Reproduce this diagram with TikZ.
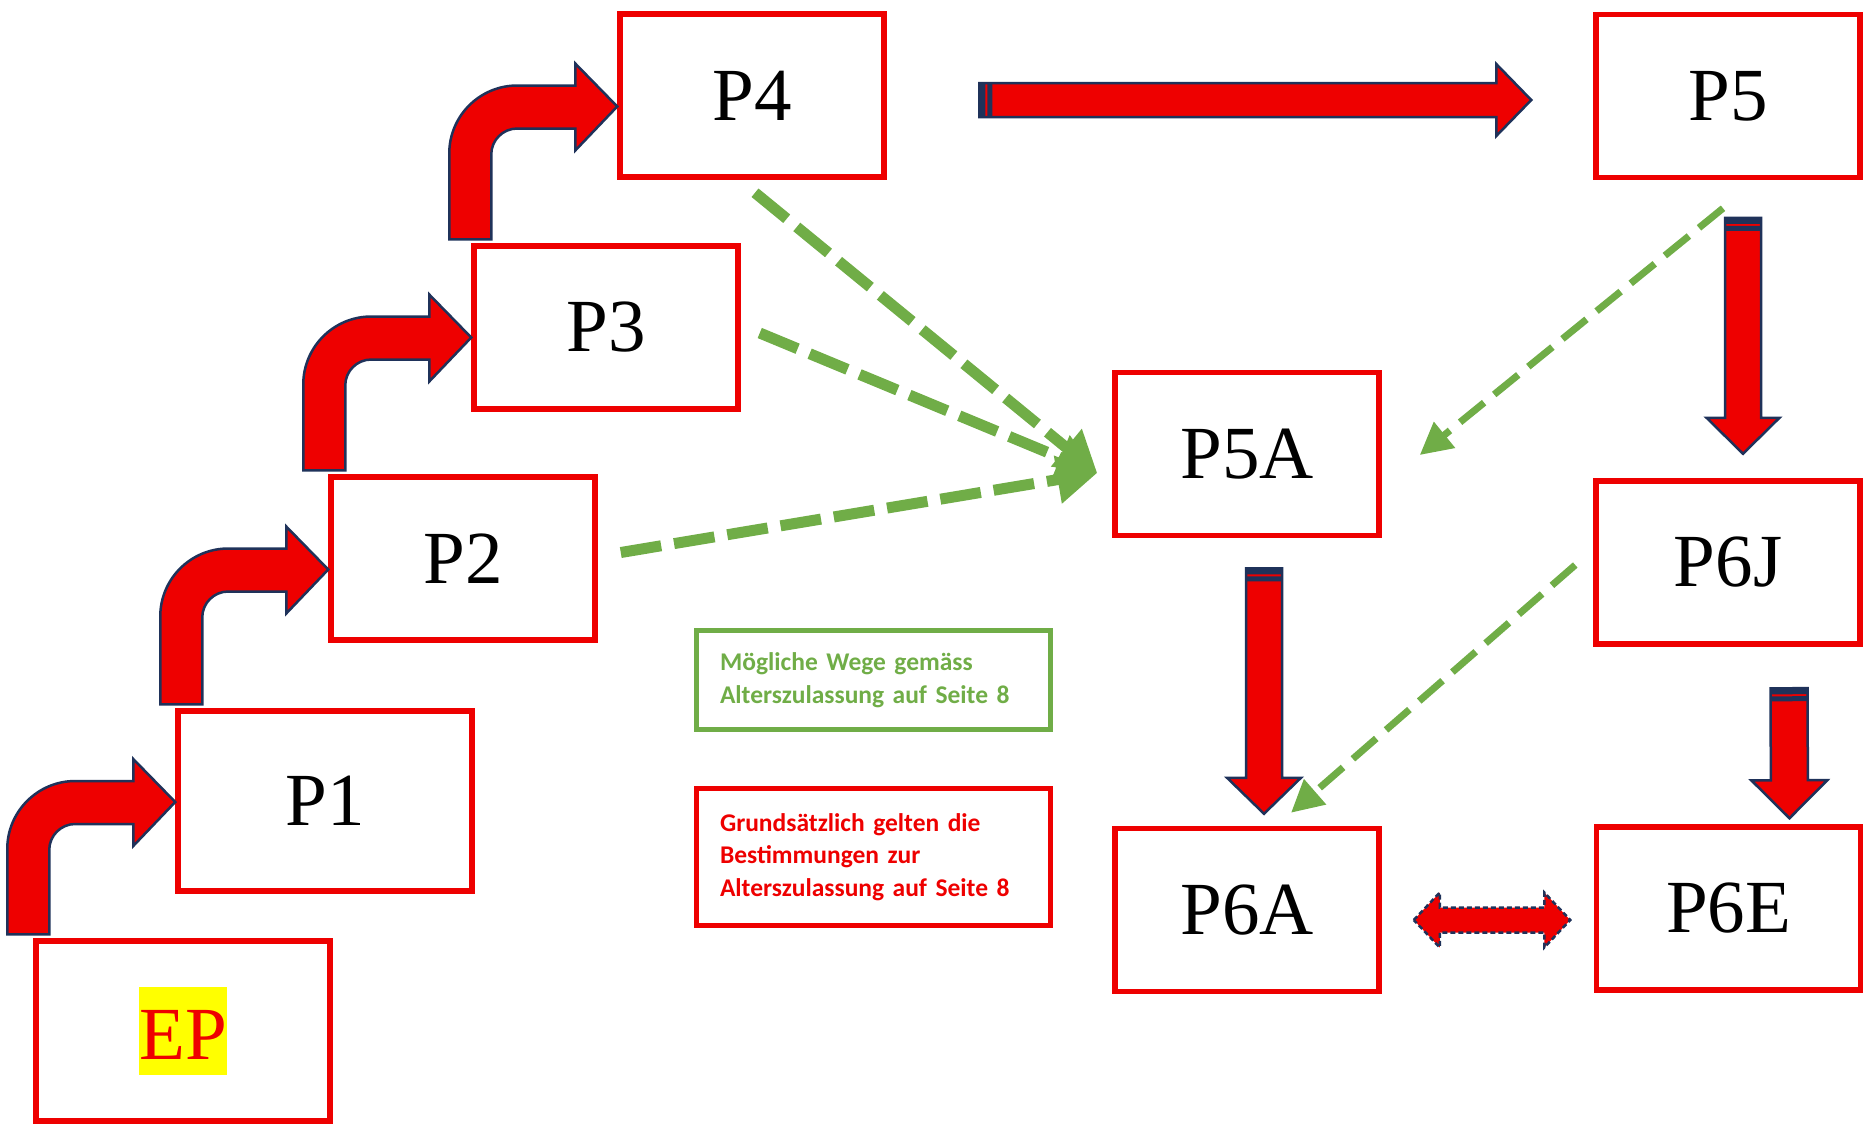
\documentclass[tikz,border=0pt]{standalone}
\usepackage{fontspec}
\setmainfont{Liberation Serif}
\newfontfamily\notefont{Carlito}[BoldFont={Carlito Bold}]
\usetikzlibrary{arrows.meta,calc}

\definecolor{boxred}{RGB}{238,0,0}
\definecolor{navyblue}{RGB}{31,50,90}
\definecolor{waygreen}{RGB}{112,173,71}
\definecolor{marker}{RGB}{255,255,0}
\setlength{\fboxsep}{0pt}

\tikzset{
	stage/.style={draw=boxred, line width=5.5pt, fill=white, inner sep=0pt,
		minimum width=264pt, minimum height=163pt, font=\fontsize{75}{90}\selectfont},
	bigstage/.style={stage, minimum width=294pt, minimum height=180pt},
	note/.style={line width=5pt, minimum width=354pt, text width=307pt, align=left, inner xsep=0pt,
		font=\notefont\bfseries\fontsize{25.5}{32.5}\selectfont},
	blockline/.style={draw=navyblue, fill=boxred, line width=2.5pt, line join=miter},
	way/.style={draw=waygreen, line width=11pt, dash pattern=on 41pt off 13pt,
		-{Triangle[length=40pt,width=46pt]}},
	thinway/.style={way, line width=7pt, dash pattern=on 31pt off 13pt,
		-{Triangle[length=32pt,width=32pt]}}
}

% straight block arrow: tail, tip, half shaft, half head, head length
\newcommand\blockarrow[5]{%
	\draw[blockline] let \p1=(#1), \p2=(#2), \n1={atan2(\y2-\y1,\x2-\x1)}, \n2={veclen(\x2-\x1,\y2-\y1)} in
		[shift={(\p1)}, rotate=\n1]
		(0pt,-#3pt) -- ({\n2-#5pt},-#3pt) -- ({\n2-#5pt},-#4pt) -- (\n2,0pt)
		-- ({\n2-#5pt},#4pt) -- ({\n2-#5pt},#3pt) -- (0pt,#3pt) -- cycle;
	\fill[navyblue] let \p1=(#1), \p2=(#2), \n1={atan2(\y2-\y1,\x2-\x1)} in
		[shift={(\p1)}, rotate=\n1]
		(0pt,-#3pt) rectangle (6pt,#3pt) (8pt,-#3pt) rectangle (13pt,#3pt);
}

\begin{document}
\begin{tikzpicture}[x=1pt, y=-1pt]
	\useasboundingbox (0,0) rectangle (1865,1125);

	\node[bigstage] (ep) at (183,1031) {\colorbox{marker}{\rule[-16pt]{0pt}{88pt}\textcolor{boxred}{EP}}};
	\node[bigstage] (p1) at (325,801) {P1};
	\node[stage] (p2) at (463,558.5) {P2};
	\node[stage] (p3) at (606,327.5) {P3};
	\node[stage] (p4) at (752,95.5) {P4};
	\node[stage] (p5) at (1728,96) {P5};
	\node[stage] (p5a) at (1247,454) {P5A};
	\node[stage] (p6j) at (1728,562.5) {P6J};
	\node[stage] (p6a) at (1247,910) {P6A};
	\node[stage] (p6e) at (1728.5,908.5) {P6E};

	\node[note, draw=waygreen, text=waygreen, minimum height=99pt] (wege) at (873.5,680)
		{Mögliche Wege gemäss\\Alterszulassung auf Seite 8};
	\node[note, draw=boxred, text=boxred, minimum height=137pt] (regel) at (873.5,857)
		{Grundsätzlich gelten die\\Bestimmungen zur\\Alterszulassung auf Seite 8};

	\foreach \src/\dst/\dy in {ep/p1/1, p1/p2/11, p2/p3/10, p3/p4/11}
	{
		\draw[blockline] let \p1=($(\dst.west)+(0,\dy)$), \p2=(\src.north) in
			(\x1-168pt,\y2+4pt) -- (\x1-168pt,\y1-47pt) arc[start angle=180, end angle=90, radius=68pt]
			-- (\x1-42pt,\y1+21pt) -- (\x1-42pt,\y1+43pt) -- (\p1) -- (\x1-42pt,\y1-44pt)
			-- (\x1-42pt,\y1-22pt) -- (\x1-100pt,\y1-22pt) arc[start angle=90, end angle=180, radius=26pt]
			-- (\x1-126pt,\y2+4pt) -- cycle;
	}

	\blockarrow{$(p4.east)+(92.5,4.5)$}{$(p5.west)+(-62,4)$}{17}{36}{35}
	\blockarrow{$(p5.south)+(15,37.5)$}{$(p6j.north)+(15,-24.5)$}{18}{36.5}{36}
	\blockarrow{$(p5a.south)+(17,30)$}{$(p6a.north)+(17,-12)$}{18}{37}{36}
	\blockarrow{$(p6j.south)+(61,41.5)$}{$(p6e.north)+(61,-6)$}{18.5}{38}{38}

	\draw[blockline, dash pattern=on 5pt off 3pt] let \p1=($(p6a.east)+(32,10)$), \p2=($(p6e.west)+(-23.5,11.5)$) in
		(\p1) -- (\x1+26pt,\y1+27.5pt) -- (\x1+26pt,\y1+12.5pt) -- (\x2-26pt,\y2+12.5pt)
		-- (\x2-26pt,\y2+27.5pt) -- (\p2) -- (\x2-26pt,\y2-27.5pt) -- (\x2-26pt,\y2-12.5pt)
		-- (\x1+26pt,\y1-12.5pt) -- (\x1+26pt,\y1-27.5pt) -- cycle;

	\draw[way] ($(p4.south)+(3,13)$) -- ($(p5a.west)+(-15,19)$);
	\draw[way] ($(p3.east)+(19,5.5)$) -- ($(p5a.west)+(-15,19)$);
	\draw[way] ($(p2.east)+(23,-6)$) -- ($(p5a.west)+(-15,19)$);
	\draw[thinway] ($(p5.south)+(-5,28)$) -- ($(p5a.east)+(38,1)$);
	\draw[thinway] ($(p6j.west)+(-18,2.5)$) -- ($(p6a.north)+(44,-13)$);
\end{tikzpicture}
\end{document}
